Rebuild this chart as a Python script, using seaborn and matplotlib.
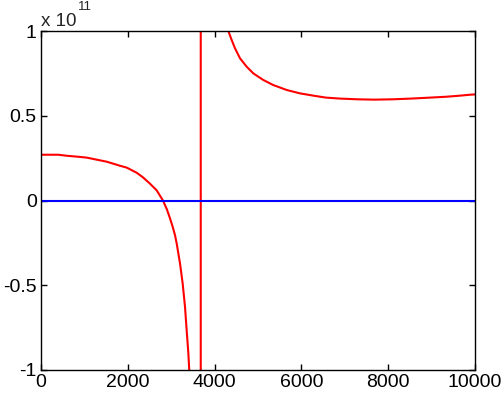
"""
MATLAB-style line chart: red curve with a pole near x=3680, blue zero line.
"""

import matplotlib
matplotlib.use("Agg")
import matplotlib.pyplot as plt
import seaborn as sns
import pandas as pd

# values are in units of 1e11 (shown as "x 10^11" above the axes)
curve_x = [0, 399, 592, 860, 1053, 1206, 1359, 1513, 1667, 1820, 1974, 2051,
           2127, 2204, 2357, 2512, 2665, 2810, 2900, 2972, 3034, 3088,
           3126, 3203, 3264, 3318, 3356, 3395, 3418, 3500, 3600, 3660, 3680,
           3682, 3700, 4000, 4200, 4316, 4393, 4470, 4585, 4740, 4892, 5122,
           5353, 5661, 5968, 6313, 6567, 6905, 7300, 7673, 8100, 8502, 8963,
           9325, 9631, 9885, 10000]
curve_y = [0.270, 0.270, 0.264, 0.258, 0.253, 0.245, 0.237, 0.229, 0.217,
           0.205, 0.194, 0.184, 0.174, 0.164, 0.135, 0.099, 0.060, 0.0,
           -0.052, -0.105, -0.155, -0.205, -0.253, -0.371, -0.489,
           -0.627, -0.764, -0.901, -1.01, -1.6, -3.5, -10.0, -40.0,
           40.0, 15.0, 2.0, 1.2, 1.0, 0.947, 0.898, 0.839, 0.789, 0.750, 0.711,
           0.681, 0.652, 0.632, 0.617, 0.607, 0.601, 0.597, 0.595, 0.597,
           0.601, 0.607, 0.612, 0.618, 0.624, 0.626]
zero_x = [0, 10000]
zero_y = [0, 0]

x_ticks = [0, 2000, 4000, 6000, 8000, 10000]
y_ticks = [-1, -0.5, 0, 0.5, 1]
y_tick_labels = ["-1", "-0.5", "0", "0.5", "1"]

sns.set_style("ticks")
plt.rcParams["font.family"] = ["Liberation Sans", "DejaVu Sans"]
plt.rcParams["axes.unicode_minus"] = False

fig = plt.figure(figsize=(5.04, 3.94), dpi=100)
ax = fig.add_axes([41 / 504, 24 / 394, 434 / 504, 339 / 394])

curve = pd.DataFrame({"x": curve_x, "y": curve_y})
zero = pd.DataFrame({"x": zero_x, "y": zero_y})
sns.lineplot(data=curve, x="x", y="y", sort=False, color="#ff0000",
             linewidth=1.5, ax=ax, estimator=None)
sns.lineplot(data=zero, x="x", y="y", sort=False, color="#0000ff",
             linewidth=1.5, ax=ax, estimator=None)

ax.set_xlim(0, 10000)
ax.set_ylim(-1, 1)
ax.set_xticks(x_ticks)
ax.set_xticklabels([str(t) for t in x_ticks])
ax.set_yticks(y_ticks)
ax.set_yticklabels(y_tick_labels)
ax.set_xlabel("")
ax.set_ylabel("")
for side in ax.spines.values():
    side.set_visible(True)
    side.set_color("black")
    side.set_linewidth(1.0)
ax.tick_params(direction="in", length=4, width=1, labelsize=14, pad=3,
               top=True, right=True, colors="black")

fig.text(41 / 504, 1 - 26 / 394, "x 10", fontsize=13.5, ha="left", va="baseline")
fig.text(78 / 504, 1 - 9.5 / 394, "11", fontsize=9.5, ha="left", va="baseline")

fig.savefig("out.png", dpi=100)
